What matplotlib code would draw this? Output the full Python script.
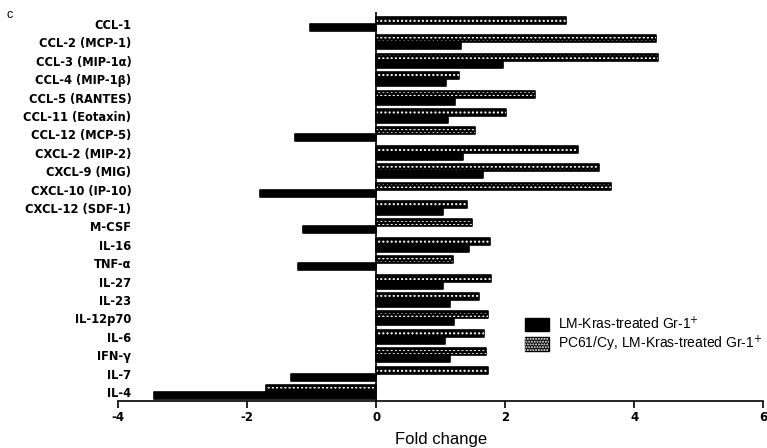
import matplotlib
matplotlib.use('Agg')
import matplotlib.pyplot as plt
from matplotlib.patches import Patch
from matplotlib.legend_handler import HandlerTuple
import numpy as np

plt.rcParams['font.family'] = ['Liberation Sans', 'DejaVu Sans']
plt.rcParams['hatch.linewidth'] = 1.0

cytokines = ['CCL-1', 'CCL-2 (MCP-1)', 'CCL-3 (MIP-1\u03b1)', 'CCL-4 (MIP-1\u03b2)',
             'CCL-5 (RANTES)', 'CCL-11 (Eotaxin)', 'CCL-12 (MCP-5)', 'CXCL-2 (MIP-2)',
             'CXCL-9 (MIG)', 'CXCL-10 (IP-10)', 'CXCL-12 (SDF-1)', 'M-CSF', 'IL-16',
             'TNF-\u03b1', 'IL-27', 'IL-23', 'IL-12p70', 'IL-6', 'IFN-\u03b3', 'IL-7', 'IL-4']

# LM-Kras-treated Gr-1+ (solid black)
lm_kras = [-1.02, 1.32, 1.96, 1.09, 1.22, 1.11, -1.26, 1.34, 1.65, -1.80, 1.03,
           -1.14, 1.44, -1.21, 1.04, 1.14, 1.20, 1.06, 1.15, -1.32, -3.45]
# PC61/Cy, LM-Kras-treated Gr-1+ (hatched)
pc61_cy = [2.95, 4.34, 4.37, 1.29, 2.47, 2.02, 1.53, 3.13, 3.45, 3.64, 1.41,
           1.49, 1.76, 1.19, 1.78, 1.59, 1.74, 1.67, 1.70, 1.73, -1.70]

xticks = [-4, -2, 0, 2, 4, 6]

fig = plt.figure(figsize=(7.67, 4.48), dpi=100)
ax = fig.add_axes([0.154, 0.105, 0.841, 0.868])

y = np.arange(len(cytokines))
h = 0.38
off = 0.19

ax.barh(y + off, lm_kras, height=h, color='black', edgecolor='black',
        linewidth=1.2, joinstyle='round', zorder=2)
ax.barh(y - off, pc61_cy, height=h, color='black', edgecolor='black',
        linewidth=1.2, joinstyle='round', zorder=2)
ax.barh(y - off, pc61_cy, height=h * 0.55, fill=False, hatch='....',
        edgecolor='white', linewidth=0, zorder=3)

ax.axvline(0, color='black', linewidth=1.2, zorder=4)

ax.set_xlim(-4, 6)
ax.set_ylim(len(cytokines) - 1 + 0.49, -0.65)
ax.set_xticks(xticks)
ax.set_xticklabels([str(t) for t in xticks], fontweight='bold', fontsize=8.5,
                   family='DejaVu Sans')
ax.tick_params(axis='x', length=5, width=1.2, direction='out', pad=2)

ax.set_yticks(y)
ax.set_yticklabels(cytokines, fontweight='bold', fontsize=8.3, family='DejaVu Sans')
ax.tick_params(axis='y', length=0, pad=-9.5)

for s in ['top', 'right', 'left']:
    ax.spines[s].set_visible(False)
ax.spines['bottom'].set_linewidth(1.2)

ax.set_xlabel('Fold change', fontsize=12, labelpad=6)

solid = Patch(facecolor='black', edgecolor='black')
hatched_bg = Patch(facecolor='black', edgecolor='black')
hatched_fg = Patch(fill=False, hatch='......', edgecolor='white', linewidth=0)
ax.legend([solid, (hatched_bg, hatched_fg)],
          ['LM-Kras-treated Gr-1$^{+}$', 'PC61/Cy, LM-Kras-treated Gr-1$^{+}$'],
          handler_map={tuple: HandlerTuple(ndivide=1)},
          loc='upper left', bbox_to_anchor=(0.631, 0.222), frameon=False,
          fontsize=10, handlelength=1.75, handleheight=1.1, handletextpad=0.6,
          labelspacing=0.15, borderaxespad=0, borderpad=0)

fig.text(0.009, 0.966, 'c', fontsize=9, va='center', ha='left')

plt.savefig('out.png', dpi=100)
